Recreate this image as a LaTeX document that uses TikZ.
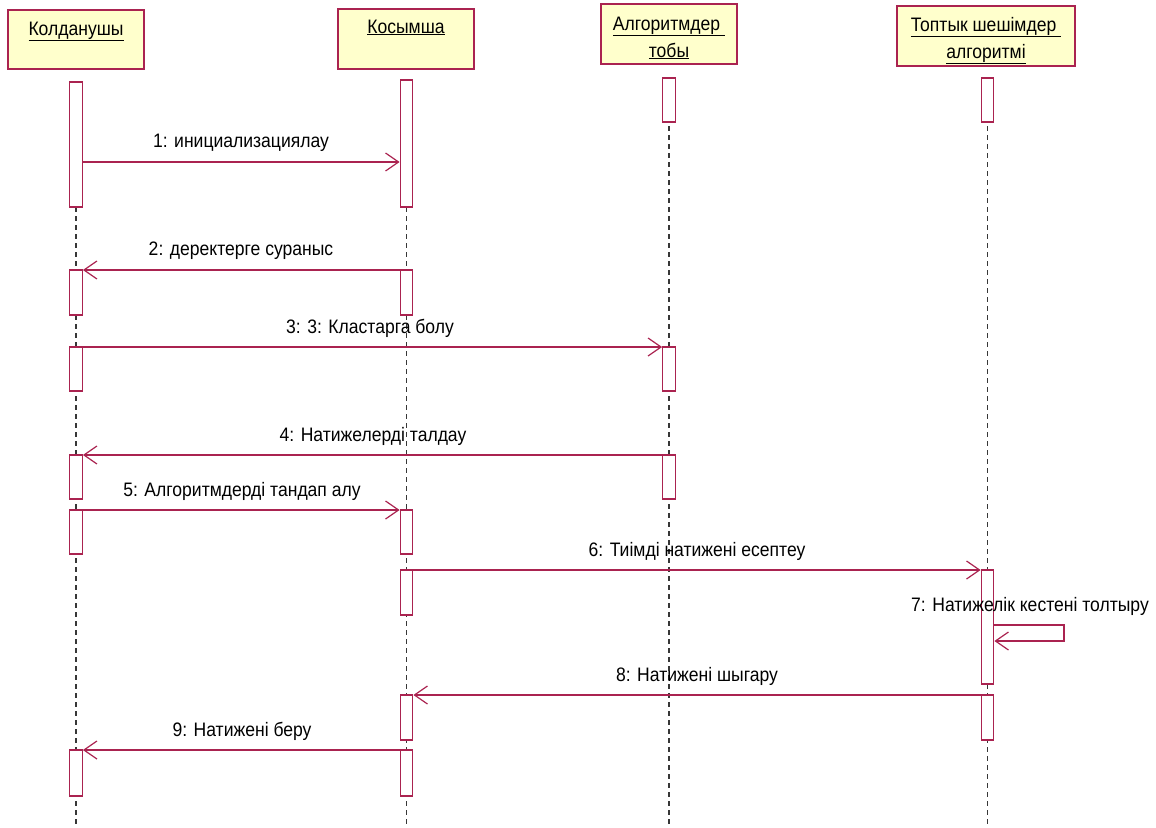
\documentclass[tikz,border=0pt]{standalone}
\usepackage{fontspec}
\setmainfont{Liberation Sans}[FakeStretch=0.9]
\usetikzlibrary{arrows.meta}
\definecolor{umlred}{RGB}{170,35,80}
\definecolor{hdrfill}{RGB}{255,255,204}
\definecolor{lifegray}{RGB}{55,55,55}
\newcommand\actbox[4]{\node[act, minimum height={#4-#3}] (#1) at (#2,{(#3+#4)/2}) {};}
\begin{document}
\begin{tikzpicture}[x=1pt,y=-1pt,
 hdr/.style={draw=umlred, fill=hdrfill, line width=1.4pt, inner sep=0pt},
 act/.style={draw=umlred, fill=white, line width=1.3pt, minimum width=12.5pt, inner sep=0pt},
 msg/.style={umlred, line width=1.3pt, -{Straight Barb[length=13pt,width=18pt,line width=1.2pt]}},
 selfmsg/.style={umlred, line width=1.3pt, {Straight Barb[length=13pt,width=18pt,line width=1.2pt]}-},
 life/.style={lifegray, dash pattern=on 5pt off 4pt, line width=1.1pt},
 lbl/.style={font=\fontsize{19.5}{22}\selectfont, text=black, inner sep=0pt, anchor=base}]
\useasboundingbox (0,0) rectangle (1156,827);
% lifelines
\coordinate (L1top) at (76,90);   \coordinate (L1bot) at (76,827);
\coordinate (L2top) at (406.5,90); \coordinate (L2bot) at (406.5,827);
\coordinate (L3top) at (669,90);  \coordinate (L3bot) at (669,827);
\coordinate (L4top) at (987.5,90);  \coordinate (L4bot) at (987.5,827);
\draw[life] (L1top) -- (L1bot);
\draw[life] (L2top) -- (L2bot);
\draw[life] (L3top) -- (L3bot);
\draw[life] (L4top) -- (L4bot);
% headers
\node[hdr, minimum width=136pt, minimum height=59pt] (H1) at (76,39.5) {};
\node[hdr, minimum width=136pt, minimum height=60pt] (H2) at (406,39) {};
\node[hdr, minimum width=136pt, minimum height=60pt] (H3) at (669,34) {};
\node[hdr, minimum width=178pt, minimum height=60pt] (H4) at (986,36) {};
\node[lbl] (H1t) at (76,35) {\underline{Колданушы}};
\node[lbl] (H2t) at (406,33) {\underline{Косымша}};
\node[lbl] (H3t) at (669,30) {\underline{Алгоритмдер\ }};
\node[lbl] (H3u) at (669,57) {\underline{тобы}};
\node[lbl] (H4t) at (986,31) {\underline{Топтык шешімдер\ }};
\node[lbl] (H4u) at (986,58) {\underline{алгоритмі}};
% activations
\actbox{A1}{76}{82}{207}
\actbox{A2}{76}{270}{315}
\actbox{A3}{76}{347}{391}
\actbox{A4}{76}{455}{499}
\actbox{A5}{76}{510}{554}
\actbox{A6}{76}{750}{796}
\actbox{B1}{406.5}{80}{207}
\actbox{B2}{406.5}{270}{315}
\actbox{B3}{406.5}{510}{554}
\actbox{B4}{406.5}{570}{615}
\actbox{B5}{406.5}{695}{740}
\actbox{B6}{406.5}{750}{796}
\actbox{C1}{669}{78}{122}
\actbox{C2}{669}{347}{391}
\actbox{C3}{669}{455}{499}
\actbox{D1}{987.5}{78}{122}
\actbox{D2}{987.5}{570}{684}
\actbox{D3}{987.5}{695}{740}
% messages
\draw[msg] (A1.east |- 0,162) -- (B1.west |- 0,162);
\node[lbl] (m1) at (241,147) {1: инициализациялау};
\draw[msg] (B2.west |- 0,270) -- (A2.east |- 0,270);
\node[lbl] (m2) at (241,255) {2: деректерге сураныс};
\draw[msg] (A3.east |- 0,347) -- (C2.west |- 0,347);
\node[lbl] (m3) at (370,333) {3: 3: Кластарга болу};
\draw[msg] (C3.west |- 0,455) -- (A4.east |- 0,455);
\node[lbl] (m4) at (373,441) {4: Натижелерді талдау};
\draw[msg] (A5.east |- 0,510) -- (B3.west |- 0,510);
\node[lbl] (m5) at (242,496) {5: Алгоритмдерді тандап алу};
\draw[msg] (B4.east |- 0,570) -- (D2.west |- 0,570);
\node[lbl] (m6) at (697,556) {6: Тиімді натижені есептеу};
\coordinate (S7a) at (1064,625);
\coordinate (S7b) at (1064,641);
\draw[selfmsg] (D2.east |- 0,641) -- (S7b) -- (S7a) -- (D2.east |- 0,625);
\node[lbl] (m7) at (1030,611) {7: Натижелік кестені толтыру};
\draw[msg] (D3.west |- 0,695) -- (B5.east |- 0,695);
\node[lbl] (m8) at (697,681) {8: Натижені шыгару};
\draw[msg] (B6.west |- 0,750) -- (A6.east |- 0,750);
\node[lbl] (m9) at (242,736) {9: Натижені беру};
\end{tikzpicture}
\end{document}
